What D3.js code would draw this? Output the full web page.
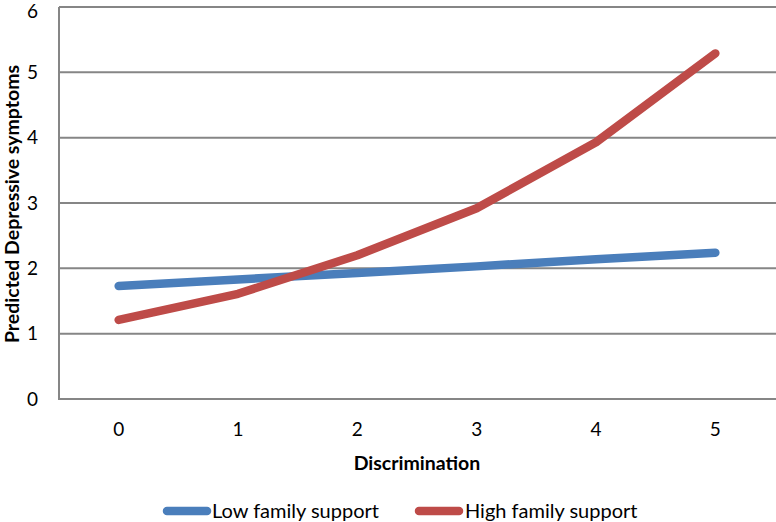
<!DOCTYPE html>
<html><head><meta charset="utf-8">
<script src="https://cdn.jsdelivr.net/npm/d3@7"></script>
<style>
html,body{margin:0;padding:0;background:#fff;}
text{font-family:Lato,"Open Sans",sans-serif;fill:#000;}
</style></head>
<body><svg id="c" width="776" height="522"></svg>
<script>
const categories = ["0","1","2","3","4","5"];
const lowSupport = [1.73, 1.83, 1.93, 2.03, 2.14, 2.24];
const highSupport = [1.21, 1.61, 2.20, 2.92, 3.93, 5.29];
const yTicks = [0,1,2,3,4,5,6];
const seriesNames = ["Low family support","High family support"];
const colors = ["#4a7ebb","#be4b48"];

const svg = d3.select("#c");
const L = 59, R = 775, T = 7, B = 399;
const x = d3.scalePoint().domain(categories).range([L, R]).padding(0.5);
const y = d3.scaleLinear().domain([0,6]).range([B, T]);

// gridlines
svg.append("g").selectAll("line").data(yTicks.filter(d=>d>0)).join("line")
  .attr("x1", L).attr("x2", 776).attr("y1", d=>y(d)).attr("y2", d=>y(d))
  .attr("stroke", "#868686").attr("stroke-width", 2);

// axes lines
svg.append("line").attr("x1", L).attr("x2", L).attr("y1", T).attr("y2", B)
  .attr("stroke", "#868686").attr("stroke-width", 2);
svg.append("line").attr("x1", L-1).attr("x2", 776).attr("y1", B).attr("y2", B)
  .attr("stroke", "#868686").attr("stroke-width", 2);

// y labels
svg.append("g").selectAll("text").data(yTicks).join("text")
  .attr("x", 38).attr("y", d=>Math.max(y(d), 11)).attr("dy", "0.35em")
  .attr("text-anchor", "end").attr("font-size", 19).text(d=>d);

// x labels
svg.append("g").selectAll("text").data(categories).join("text")
  .attr("x", d=>x(d)).attr("y", 429).attr("dy", "0.35em")
  .attr("text-anchor", "middle").attr("font-size", 19).text(d=>d);

// axis titles
svg.append("text").attr("x", 417).attr("y", 463).attr("dy","0.35em")
  .attr("text-anchor","middle").attr("font-size",19.5).attr("font-weight","bold")
  .text("Discrimination");
svg.append("text").attr("transform","translate(12,204) rotate(-90)").attr("dy","0.35em")
  .attr("text-anchor","middle").attr("font-size",19.5).attr("font-weight","bold")
  .text("Predicted Depressive symptoms");

// lines
const line = d3.line().x((d,i)=>x(categories[i])).y(d=>y(d));
[lowSupport, highSupport].forEach((s,k)=>{
  svg.append("path").datum(s).attr("d", line).attr("fill","none")
    .attr("stroke", colors[k]).attr("stroke-width", 8.5)
    .attr("stroke-linecap","round").attr("stroke-linejoin","round");
});

// legend
const lg = [{x:163, tx:212},{x:415, tx:465}];
seriesNames.forEach((n,k)=>{
  svg.append("line").attr("x1", lg[k].x+4).attr("x2", lg[k].x+44)
    .attr("y1", 511).attr("y2", 511).attr("stroke", colors[k])
    .attr("stroke-width", 8.5).attr("stroke-linecap","round");
  svg.append("text").attr("x", lg[k].tx).attr("y", 511).attr("dy","0.35em")
    .attr("font-size", 20).text(n);
});
</script></body></html>
